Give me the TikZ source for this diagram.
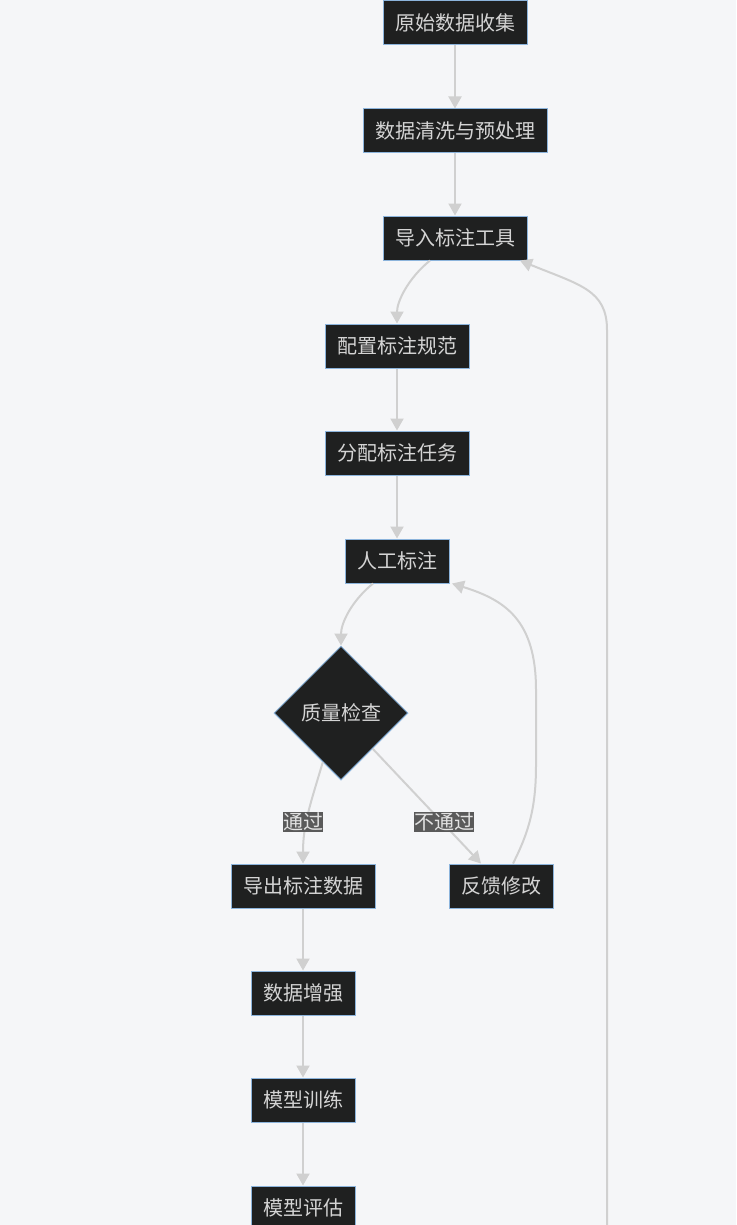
\documentclass[tikz,border=0pt]{standalone}
\usepackage{fontspec}
\setmainfont{Noto Sans CJK SC}
\usetikzlibrary{shapes.geometric,arrows.meta,calc}
\definecolor{bgc}{HTML}{F5F6F8}
\definecolor{nodefill}{HTML}{1F2020}
\definecolor{nodeline}{HTML}{8CB4DC}
\definecolor{nodetext}{HTML}{D4D4D4}
\definecolor{edgec}{HTML}{D0D0D0}
\definecolor{lblbg}{HTML}{5A5A5A}
\definecolor{lbltext}{HTML}{E2E2E2}
\tikzset{
  stepbox/.style={draw=nodeline, fill=nodefill, line width=1pt, text=nodetext,
    font=\fontsize{20}{22}\selectfont, inner xsep=12pt, inner ysep=0pt,
    minimum height=44pt},
  decide/.style={diamond, aspect=1, draw=nodeline, fill=nodefill, line width=1pt,
    text=nodetext, font=\fontsize{20}{22}\selectfont, inner sep=0pt,
    minimum width=134pt, minimum height=134pt},
  edge/.style={draw=edgec, line width=2pt, -{Triangle[length=12pt,width=13pt]}},
  lbl/.style={fill=lblbg, text=lbltext, font=\fontsize{20}{22}\selectfont,
    inner sep=0pt, minimum height=20pt}
}
\begin{document}
\begin{tikzpicture}[x=1pt,y=-1pt]
\useasboundingbox[fill=bgc] (0,0) rectangle (736,1225);
\node[stepbox] (n1) at (455,23) {原始数据收集};
\node[stepbox] (n2) at (455,131) {数据清洗与预处理};
\node[stepbox] (n3) at (455,238) {导入标注工具};
\node[stepbox] (n4) at (397,346) {配置标注规范};
\node[stepbox] (n5) at (397,453) {分配标注任务};
\node[stepbox] (n6) at (397,561) {人工标注};
\node[decide] (n7) at (341,713) {质量检查};
\node[stepbox] (n8) at (303,886) {导出标注数据};
\node[stepbox] (n9) at (501,886) {反馈修改};
\node[stepbox] (n10) at (303,993) {数据增强};
\node[stepbox] (n11) at (303,1100) {模型训练};
\node[stepbox] (n12) at (303,1208) {模型评估};
\coordinate (loopstart) at (607,1240);

\draw[edge] (n1) -- (n2);
\draw[edge] (n2) -- (n3);
\draw[edge] ([xshift=-25pt]n3.south) .. controls +(-22,18) and +(0,-22) .. (n4.north);
\draw[edge] (n4) -- (n5);
\draw[edge] (n5) -- (n6);
\draw[edge] ([xshift=-24pt]n6.south) .. controls +(-22,18) and +(0,-22) .. (n7.north);
\draw[edge] ($(n7.south)!0.27!(n7.west)$) .. controls (310,805) and (303,825) .. (n8.north);
\draw[edge] ($(n7.south)!0.47!(n7.east)$) -- ([xshift=-20pt]n9.north);
\draw[edge] ([xshift=12pt]n9.north) .. controls (530,830) and (536,805) .. (536,765)
  -- (536,690) .. controls (536,620) and (505,600) .. ([xshift=55pt]n6.south);
\draw[edge] (n8) -- (n10);
\draw[edge] (n10) -- (n11);
\draw[edge] (n11) -- (n12);
\draw[edge] (loopstart) -- (607,330) .. controls (607,290) and (580,285) .. ([xshift=65pt]n3.south);

\node[lbl] (l1) at (303,822) {通过};
\node[lbl] (l2) at (444,822) {不通过};
\end{tikzpicture}
\end{document}
